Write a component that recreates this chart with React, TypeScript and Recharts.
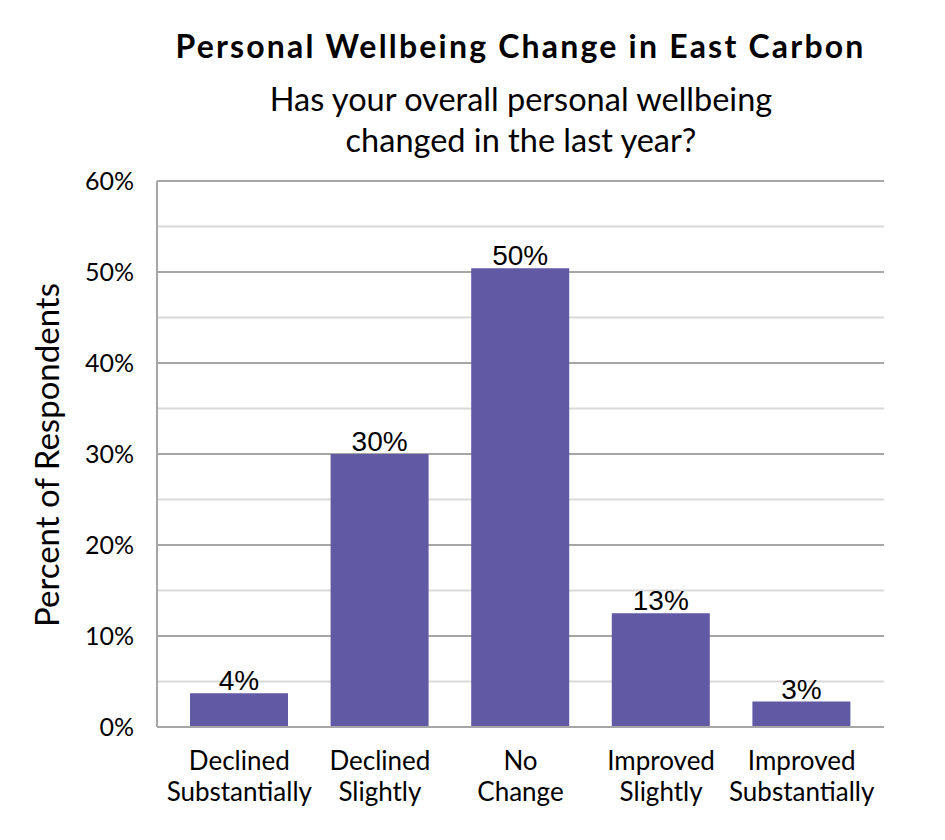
import { BarChart, Bar, XAxis, YAxis, CartesianGrid, LabelList } from "recharts";

const categories = [
  "Declined Substantially",
  "Declined Slightly",
  "No Change",
  "Improved Slightly",
  "Improved Substantially",
];
const percents = [3.7, 30.0, 50.4, 12.5, 2.8];
const majorTicks = [0, 10, 20, 30, 40, 50, 60];
const minorTicks = [5, 15, 25, 35, 45, 55];

const data = categories.map((cat, i) => ({ cat, val: percents[i] }));

const calibriLike = "Lato, 'Open Sans', sans-serif";

function CategoryTick({ x, y, payload }: any) {
  const label: string = payload.value;
  const sp = label.indexOf(" ");
  const first = label.slice(0, sp);
  const second = label.slice(sp + 1);
  return (
    <text x={x} y={y} textAnchor="middle" fontFamily={calibriLike} fontSize={26} fill="#000">
      <tspan x={x} dy={41}>{first}</tspan>
      <tspan x={x} dy={31}>{second}</tspan>
    </text>
  );
}

export default function App() {
  return (
    <div style={{ position: "absolute", left: 0, top: 0, width: 945, height: 840, background: "#fff" }}>
      <BarChart
        width={945}
        height={840}
        data={data}
        margin={{ top: 181, right: 61, bottom: 33, left: 57 }}
      >
        <CartesianGrid vertical={false} horizontalValues={minorTicks} stroke="#d9d9d9" strokeWidth={2} />
        <CartesianGrid vertical={false} horizontalValues={majorTicks} stroke="#a6a6a6" strokeWidth={2} />
        <XAxis
          dataKey="cat"
          height={80}
          padding={{ left: 12, right: 12 }}
          axisLine={{ stroke: "#a6a6a6", strokeWidth: 2 }}
          tickLine={false}
          tickSize={0}
          tick={<CategoryTick />}
          interval={0}
        />
        <YAxis
          width={100}
          domain={[0, 60]}
          ticks={majorTicks}
          tickFormatter={(v: number) => `${v}%`}
          axisLine={{ stroke: "#a6a6a6", strokeWidth: 2 }}
          tickLine={false}
          tickSize={0}
          tickMargin={23}
          tick={{ fontSize: 25, fill: "#000", fontFamily: calibriLike }}
        />
        <YAxis
          yAxisId="right"
          orientation="right"
          width={0}
          domain={[0, 60]}
          tick={false}
          tickLine={false}
          axisLine={{ stroke: "#a6a6a6", strokeWidth: 2 }}
        />
        <Bar dataKey="val" fill="#6159a3" barSize={98} isAnimationActive={false}>
          <LabelList
            dataKey="val"
            position="top"
            offset={3}
            formatter={(v: any) => `${Math.round(Number(v))}%`}
            style={{ fontSize: 28, fill: "#000", fontFamily: "'Liberation Sans', Arial, sans-serif" }}
          />
        </Bar>
      </BarChart>
      <svg
        width={945}
        height={840}
        style={{ position: "absolute", left: 0, top: 0, pointerEvents: "none" }}
      >
        <text
          x={520.5}
          y={58}
          textAnchor="middle"
          fontFamily={calibriLike}
          fontWeight="bold"
          fontSize={32}
          letterSpacing={2.2}
          fill="#000"
        >
          Personal Wellbeing Change in East Carbon
        </text>
        <text x={521} y={111} textAnchor="middle" fontFamily={calibriLike} fontSize={32.5} fill="#000">
          Has your overall personal wellbeing
        </text>
        <text x={521} y={152} textAnchor="middle" fontFamily={calibriLike} fontSize={32.5} fill="#000">
          changed in the last year?
        </text>
        <text
          x={59}
          y={455}
          textAnchor="middle"
          transform="rotate(-90, 59, 455)"
          fontFamily={calibriLike}
          fontSize={33}
          fill="#000"
        >
          Percent of Respondents
        </text>
      </svg>
    </div>
  );
}
